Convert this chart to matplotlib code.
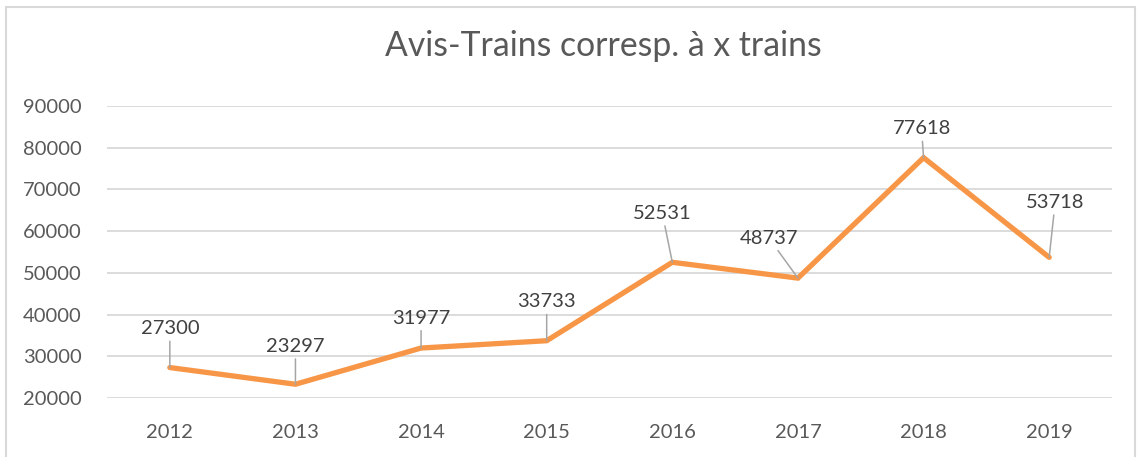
import matplotlib.pyplot as plt
from matplotlib.patches import Rectangle

# values
years = ['2012', '2013', '2014', '2015', '2016', '2017', '2018', '2019']
avis = [27300, 23297, 31977, 33733, 52531, 48737, 77618, 53718]
# label offsets from each point, in pixels (Excel-like placement)
label_dx = [0, 0, 0, 0, -10, -29, -2, 6]
label_dy = [39, 38, 30, 39, 49, 40, 29, 55]

yticks = [20000, 30000, 40000, 50000, 60000, 70000, 80000, 90000]

plt.rcParams['font.family'] = ['Lato', 'DejaVu Sans']

fig = plt.figure(figsize=(11.4, 4.57), dpi=100, facecolor='white')
ax = fig.add_axes([107 / 1140, 59 / 457, 1005 / 1140, 292 / 457])

# outer chart border
fig.patches.append(Rectangle((6 / 1140, -0.05), 1129 / 1140, 1.05 - 7 / 457,
                             transform=fig.transFigure, fill=False,
                             edgecolor='#d9d9d9', lw=1.5))

x = list(range(len(years)))
ax.plot(x, avis, color='#f79646', lw=3.8, solid_joinstyle='miter',
        solid_capstyle='round', zorder=3)

for xi, v, dx, dy in zip(x, avis, label_dx, label_dy):
    ax.annotate(str(v), xy=(xi, v), xytext=(dx, dy),
                textcoords='offset pixels', ha='center', va='center',
                fontsize=14.5, color='#404040',
                arrowprops=dict(arrowstyle='-', color='#a6a6a6', lw=1.1,
                                shrinkA=1, shrinkB=0))

ax.set_xlim(-0.5, 7.5)
ax.set_ylim(20000, 90000)
ax.set_xticks(x)
ax.set_xticklabels(years)
ax.set_yticks(yticks)
ax.set_yticklabels([str(t) for t in yticks])
ax.tick_params(length=0, labelsize=14.5, labelcolor='#595959')
ax.tick_params(axis='x', pad=19)
ax.tick_params(axis='y', pad=18)
ax.grid(axis='y', color='#d9d9d9', lw=1.3)
ax.set_axisbelow(True)
for s in ax.spines.values():
    s.set_visible(False)

fig.text(603 / 1140, 1 - 46 / 457, 'Avis-Trains corresp. à x trains',
         ha='center', va='center', fontsize=24.3, color='#595959')

fig.savefig('out.png', dpi=100)
